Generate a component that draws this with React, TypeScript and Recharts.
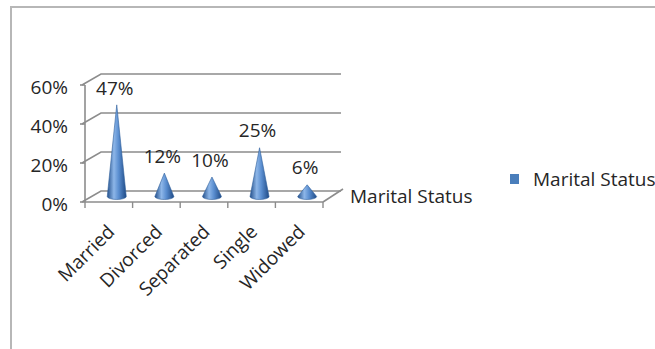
import React from "react";
import {
  BarChart,
  Bar,
  XAxis,
  YAxis,
  CartesianGrid,
  LabelList,
  Legend,
} from "recharts";

const categories = ["Married", "Divorced", "Separated", "Single", "Widowed"];
const shares = [47, 12, 10, 25, 6];
const yTicks = [0, 20, 40, 60];
const seriesName = "Marital Status";

const data = categories.map((status, i) => ({ status, value: shares[i] }));

const FONT = '"Open Sans", "Liberation Sans", sans-serif';
const TEXT = "#262626";
const LINE = "#8c8c8c";
// fake 3d depth of the plot box
const DX = 16;
const DY = -11;

// cone drawn from the bar rect that recharts hands over
function Cone(props: any) {
  const { x, y, width, height } = props;
  if (height == null || height <= 0) return null;
  const cx = x + width / 2 + DX / 2;
  const base = y + height + DY / 2;
  const tip = y + DY / 2;
  const r = 9.5;
  const ry = 3;
  const d = `M${cx - r},${base} L${cx},${tip} L${cx + r},${base} A${r},${ry} 0 0 1 ${cx - r},${base} Z`;
  return <path d={d} fill="url(#coneFill)" stroke="#2f5f9c" strokeWidth={0.6} />;
}

function PctLabel(props: any) {
  const { x, y, width, value } = props;
  return (
    <text
      x={x + width / 2 + DX / 2 - 2}
      y={y + DY / 2 - 17}
      dy="0.35em"
      textAnchor="middle"
      fontFamily={FONT}
      fontSize={19}
      fill={TEXT}
    >
      {value}%
    </text>
  );
}

// grid line = slanted wall edge + back line; the bottom one is the floor
function WallLine(props: any) {
  const { x1, x2, y1 } = props;
  const floorY = props.y != null && props.height != null ? props.y + props.height : 202;
  const isFloor = Math.abs(y1 - floorY) < 1;
  return (
    <g key={props.key}>
      <polyline
        points={`${x1 - 3},${y1} ${x1 + DX},${y1 + DY} ${x2 + DX + 2},${y1 + DY}`}
        fill="none"
        stroke={LINE}
        strokeWidth={1.6}
      />
      {isFloor && (
        <>
          <line x1={x2} y1={y1} x2={x2 + DX + 4} y2={y1 + DY - 2} stroke={LINE} strokeWidth={1.6} />
          <text x={x2 + 27} y={y1 + 1} fontFamily={FONT} fontSize={19} fill={TEXT}>
            {seriesName}
          </text>
        </>
      )}
    </g>
  );
}

function CategoryTick(props: any) {
  const { x, y, payload, index } = props;
  const half = payload.offset || 23.8;
  const last = index === categories.length - 1;
  return (
    <g>
      <line x1={x - half} y1={y} x2={x - half} y2={y + 6} stroke={LINE} strokeWidth={1.4} />
      {last && <line x1={x + half} y1={y} x2={x + half} y2={y + 6} stroke={LINE} strokeWidth={1.4} />}
      <text
        transform={`translate(${x + 7},${y + 31}) rotate(-45)`}
        textAnchor="end"
        fontFamily={FONT}
        fontSize={19}
        fill={TEXT}
      >
        {payload.value}
      </text>
    </g>
  );
}

function LegendBox() {
  return (
    <div
      style={{
        display: "flex",
        alignItems: "center",
        fontFamily: FONT,
        fontSize: 19,
        color: TEXT,
        whiteSpace: "nowrap",
      }}
    >
      <span style={{ display: "inline-block", width: 9, height: 10, background: "#4a7ebb", marginRight: 14 }} />
      {seriesName}
    </div>
  );
}

export default function App() {
  return (
    <div style={{ position: "absolute", left: 0, top: 0, width: 655, height: 349, overflow: "hidden", background: "#fff" }}>
      <div
        style={{
          position: "absolute",
          left: 10,
          top: 6,
          width: 700,
          height: 400,
          border: "2px solid #b7b7b7",
        }}
      />
      <BarChart
        width={655}
        height={349}
        data={data}
        margin={{ top: 85, right: 332, bottom: 117, left: 0 }}
        style={{ position: "absolute", left: 0, top: 0 }}
      >
        <defs>
          <linearGradient id="coneFill" x1="0" y1="0" x2="1" y2="0">
            <stop offset="0" stopColor="#24508b" />
            <stop offset="0.35" stopColor="#8db6e8" />
            <stop offset="0.6" stopColor="#5a8ed0" />
            <stop offset="1" stopColor="#1f4a85" />
          </linearGradient>
        </defs>
        <CartesianGrid vertical={false} horizontal={WallLine} />
        <XAxis
          dataKey="status"
          height={30}
          tickSize={0}
          tickMargin={0}
          tickLine={false}
          axisLine={{ stroke: LINE, strokeWidth: 1.6 }}
          tick={CategoryTick}
          interval={0}
        />
        <YAxis
          width={85}
          domain={[0, 60]}
          ticks={yTicks}
          tickSize={5}
          tickMargin={12}
          tickFormatter={(v: number) => `${v}%`}
          tick={{ fill: TEXT, fontSize: 19, fontFamily: FONT, dy: 2 }}
          tickLine={{ stroke: LINE, strokeWidth: 1.6 }}
          axisLine={{ stroke: LINE, strokeWidth: 1.6 }}
        />
        <Legend
          layout="vertical"
          align="center"
          verticalAlign="middle"
          content={LegendBox}
          wrapperStyle={{ left: 510, top: 166, width: 160 }}
        />
        <Bar dataKey="value" name={seriesName} fill="#4a7ebb" shape={Cone} isAnimationActive={false}>
          <LabelList dataKey="value" content={PctLabel} />
        </Bar>
      </BarChart>
    </div>
  );
}
